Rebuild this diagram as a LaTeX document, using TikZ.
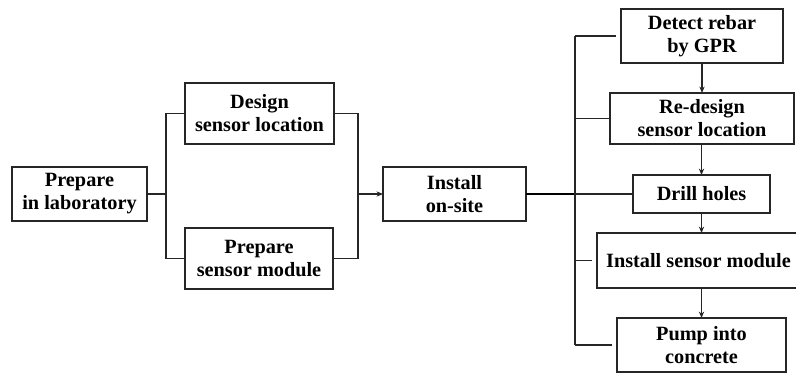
\documentclass[tikz,border=0pt]{standalone}
\usepackage{fontspec}
\setmainfont{Liberation Serif}
\usetikzlibrary{arrows.meta,calc}

\tikzset{
  box/.style={draw=black!85, line width=1pt, inner sep=0pt, outer sep=0pt,
    align=center, font=\fontsize{17.3}{19.6}\selectfont\bfseries},
  link/.style={draw=black!85, line width=1pt},
  flow/.style={link, -{Stealth[length=5.5pt,width=4.5pt]}},
  gap/.style={shorten >=4pt}
}

\begin{document}
\begin{tikzpicture}[x=0.03cm,y=-0.03cm]
\useasboundingbox (0,0) rectangle (796,373);
%%Boxes
\node[box, minimum width=4.05cm, minimum height=1.62cm] (lab) at (79.5,194) {Prepare\\in laboratory};
\node[box, minimum width=4.47cm, minimum height=1.83cm] (design) at (259.5,113.5) {Design\\sensor location};
\node[box, minimum width=4.44cm, minimum height=1.83cm] (module) at (259,258.5) {Prepare\\sensor module};
\node[box, minimum width=4.29cm, minimum height=1.62cm] (onsite) at (454.5,194) {Install\\on-site};
\node[box, minimum width=4.86cm, minimum height=1.62cm] (gpr) at (702,36) {Detect rebar\\by GPR};
\node[box, minimum width=5.52cm, minimum height=1.53cm] (redesign) at (702,118.5) {Re-design\\sensor location};
\node[box, minimum width=4.11cm, minimum height=1.14cm] (drill) at (701.5,194) {Drill holes};
\node[box, minimum width=6.09cm, minimum height=1.65cm] (mount) at (698.5,260.5) {Install sensor module};
\node[box, minimum width=5.07cm, minimum height=1.62cm] (pump) at (701.5,345) {Pump into\\concrete};
%%Junctions
\coordinate (split) at (166,194);
\coordinate (join) at (358,194);
\coordinate (bus) at (575,194);
%%Left part
\draw[link] (lab.east) -- (split);
\draw[link] (design.west) -| (split) |- (module.west);
\draw[link] (design.east) -| (join) |- (module.east);
\draw[flow] (join) -- (onsite.west);
%%Right part
\draw[link, line width=1.8pt, draw=black] (onsite.east) -- (bus);
\draw[link] (bus |- gpr.west) -- (bus |- pump.west);
\draw[link, gap] (bus |- gpr.west) -- (gpr.west);
\draw[link] (bus |- redesign.west) -- (redesign.west);
\draw[link] (bus) -- (drill.west);
\draw[link, gap] (bus |- mount.west) -- (mount.west);
\draw[link, gap] (bus |- pump.west) -- (pump.west);
%%Steps
\draw[flow] (gpr.south) -- (redesign.north);
\draw[flow] (redesign.south -| drill.south) -- (drill.south |- drill.north);
\draw[flow] (drill.south) -- (drill.south |- mount.north);
\draw[flow] (drill.south |- mount.south) -- (drill.south |- pump.north);
\end{tikzpicture}
\end{document}
